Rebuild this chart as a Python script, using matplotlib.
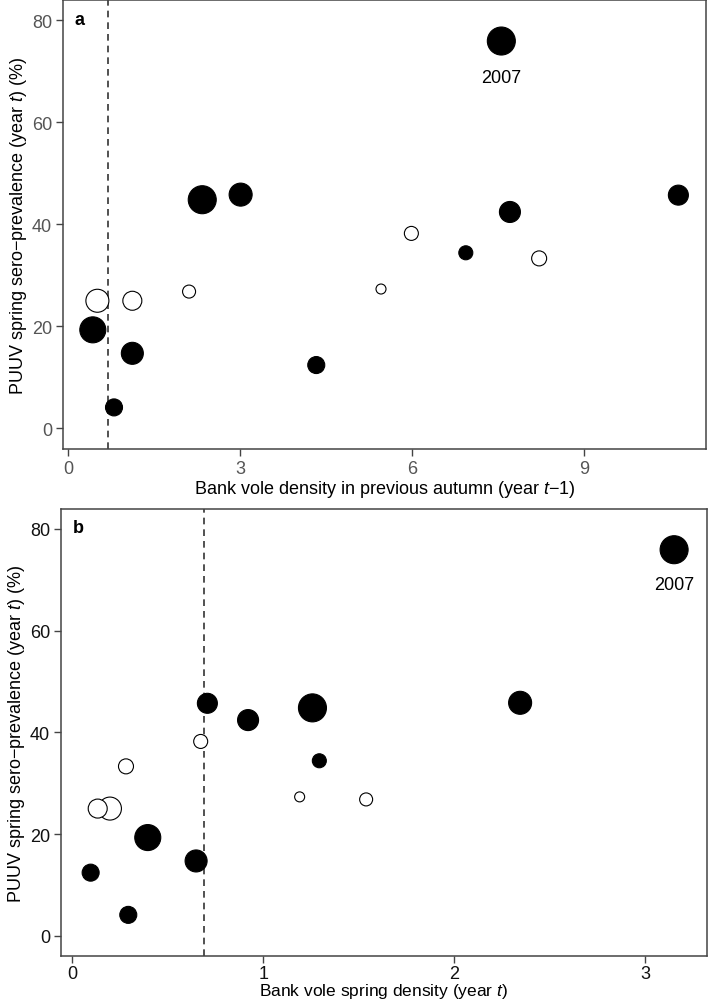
import numpy as np
import matplotlib
matplotlib.use('Agg')
import matplotlib.pyplot as plt

plt.rcParams['font.family'] = ['Liberation Sans', 'DejaVu Sans']
plt.rcParams['mathtext.fontset'] = 'custom'
plt.rcParams['mathtext.rm'] = 'Liberation Sans'
plt.rcParams['mathtext.it'] = 'Liberation Sans:italic'

# sero-prevalence in spring (year t), %
prevalence = [75.9, 44.8, 45.8, 45.7, 42.4, 34.4, 12.4, 19.3, 14.7, 4.1,
              38.2, 33.3, 27.3, 25.0, 25.0, 26.8]
# bank vole density in previous autumn (year t-1)
autumn_density = [7.56, 2.34, 3.01, 10.65, 7.71, 6.94, 4.33, 0.43, 1.12, 0.80,
                  5.99, 8.22, 5.46, 0.51, 1.12, 2.11]
# bank vole spring density (year t)
spring_density = [3.15, 1.257, 2.344, 0.707, 0.92, 1.293, 0.096, 0.395, 0.648, 0.293,
                  0.672, 0.281, 1.19, 0.197, 0.133, 1.538]
bubble = [28, 28, 23, 20, 21, 14, 17, 26, 22, 17,
          14, 15, 10, 23, 19, 13]
# filled = 1, open = 0
filled = [1, 1, 1, 1, 1, 1, 1, 1, 1, 1,
          0, 0, 0, 0, 0, 0]

threshold = 0.69
ylabel = 'PUUV spring sero\u2212prevalence (year $t$) (%)'

fig = plt.figure(figsize=(7.08, 10.04), dpi=100)
ax_a = fig.add_axes([0.089, 0.5518, 0.908, 0.447])
ax_b = fig.add_axes([0.0862, 0.0465, 0.9118, 0.4455])

def draw_panel(ax, xvals, xlim, xticks, xlabel, letter, tick_col, lab_offset,
               xpad, tpad, xfs):
    d = np.array(bubble) * 0.72
    cols = ['black' if f else 'white' for f in filled]
    ax.axvline(threshold, color='#333333', lw=1.2, ls=(0, (4, 3)), zorder=1)
    ax.scatter(xvals, prevalence, s=d ** 2, c=cols, edgecolors='black',
               linewidths=0.8, zorder=3)
    ax.annotate('2007', (xvals[0], prevalence[0]), xytext=(0, lab_offset),
                textcoords='offset points', ha='center', va='center', fontsize=13)
    ax.set_xlim(*xlim)
    ax.set_ylim(-4.05, 83.9)
    ax.set_xticks(xticks)
    ax.set_yticks([0, 20, 40, 60, 80])
    ax.set_xlabel(xlabel, fontsize=xfs, labelpad=xpad)
    ax.set_ylabel(ylabel, fontsize=13, labelpad=2)
    ax.tick_params(direction='out', length=5, width=1, color='#444444',
                   labelsize=13, labelcolor=tick_col, pad=3)
    ax.tick_params(axis='x', pad=tpad)
    for sp in ax.spines.values():
        sp.set_color('#444444')
        sp.set_linewidth(1.1)
    ax.text(0.018, 0.977, letter, transform=ax.transAxes, fontsize=13,
            fontweight='bold', ha='left', va='top')

draw_panel(ax_a, autumn_density, (-0.09, 11.13), [0, 3, 6, 9],
           'Bank vole density in previous autumn (year $t$\u22121)', 'a', '#555555',
           -26, 1, 3, 13)
draw_panel(ax_b, spring_density, (-0.059, 3.32), [0, 1, 2, 3],
           'Bank vole spring density (year $t$)', 'b', '#111111',
           -25, -1, 1.5, 12.5)

fig.savefig('out.png', dpi=100)
